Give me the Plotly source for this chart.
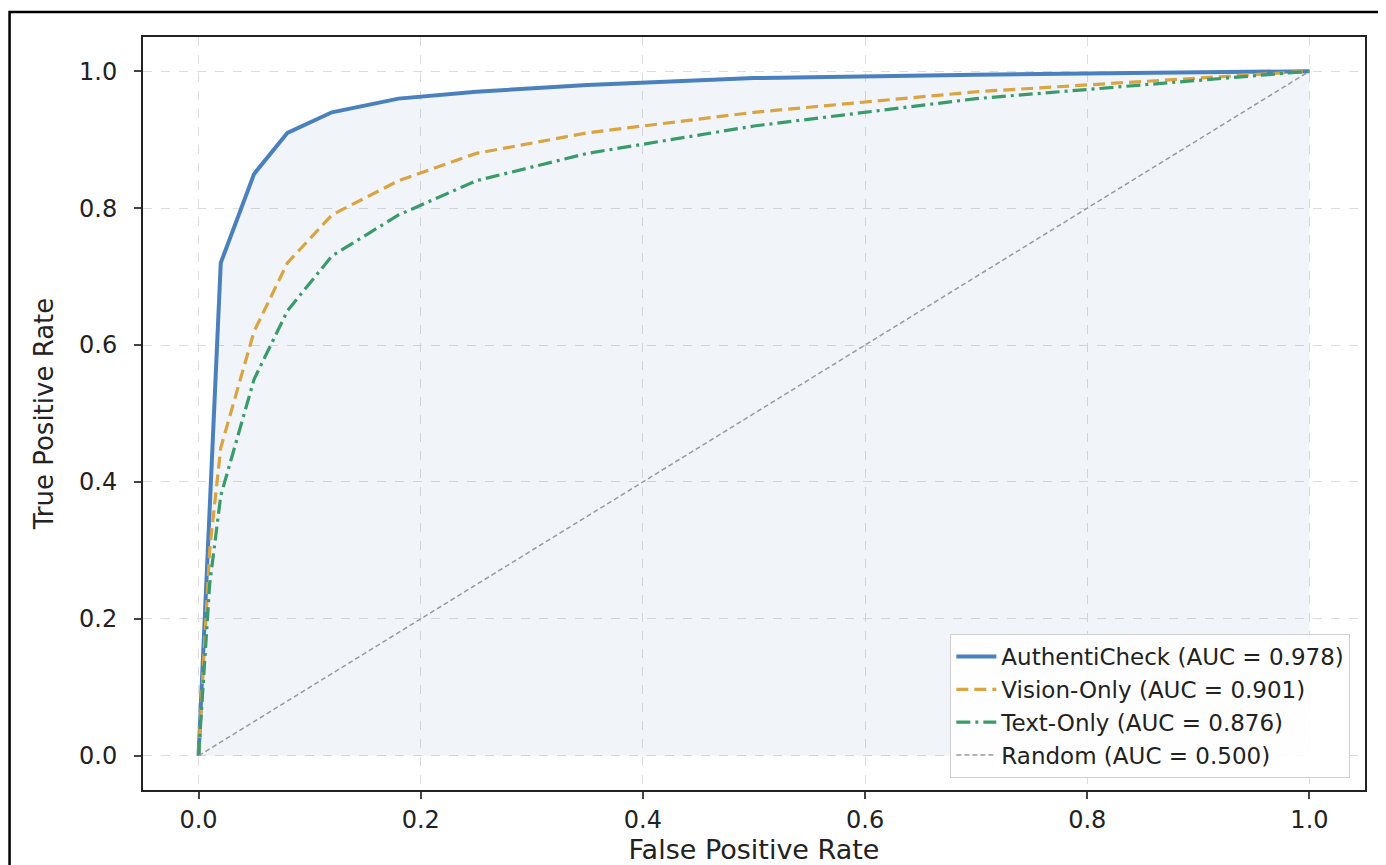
import plotly.graph_objects as go

fpr_main = [0.0, 0.02, 0.05, 0.08, 0.12, 0.18, 0.25, 0.35, 0.5, 0.7, 1.0]
tpr_main = [0.0, 0.72, 0.85, 0.91, 0.94, 0.96, 0.97, 0.98, 0.99, 0.995, 1.0]

fpr_vision = [0.0, 0.01, 0.02, 0.05, 0.08, 0.12, 0.18, 0.25, 0.35, 0.5, 0.7, 1.0]
tpr_vision = [0.0, 0.30, 0.45, 0.62, 0.72, 0.79, 0.84, 0.88, 0.91, 0.94, 0.97, 1.0]

fpr_text = [0.0, 0.01, 0.02, 0.05, 0.08, 0.12, 0.18, 0.25, 0.35, 0.5, 0.7, 1.0]
tpr_text = [0.0, 0.25, 0.38, 0.55, 0.65, 0.73, 0.79, 0.84, 0.88, 0.92, 0.96, 1.0]

fpr_random = [0.0, 1.0]
tpr_random = [0.0, 1.0]

names = ["AuthentiCheck (AUC = 0.978)", "Vision-Only (AUC = 0.901)",
         "Text-Only (AUC = 0.876)", "Random (AUC = 0.500)"]
ticks = [0.0, 0.2, 0.4, 0.6, 0.8, 1.0]
tick_text = ["0.0", "0.2", "0.4", "0.6", "0.8", "1.0"]

fig = go.Figure()
fig.add_trace(go.Scatter(x=fpr_main, y=tpr_main, mode="lines", fill="tozeroy",
                         fillcolor="rgba(74,128,189,0.08)", line=dict(width=0),
                         showlegend=False, hoverinfo="skip"))
fig.add_trace(go.Scatter(x=fpr_main, y=tpr_main, mode="lines", name=names[0],
                         line=dict(color="#4a80bd", width=4)))
fig.add_trace(go.Scatter(x=fpr_vision, y=tpr_vision, mode="lines", name=names[1],
                         line=dict(color="#d9a441", width=3.2, dash="12px,6px")))
fig.add_trace(go.Scatter(x=fpr_text, y=tpr_text, mode="lines", name=names[2],
                         line=dict(color="#3a9a6a", width=3.2, dash="14px,5px,3px,5px")))
fig.add_trace(go.Scatter(x=fpr_random, y=tpr_random, mode="lines", name=names[3],
                         line=dict(color="#9a9a9a", width=1.5, dash="5px,3px")))

axis_common = dict(
    tickvals=ticks, ticktext=tick_text, showline=True, linecolor="#222", linewidth=2,
    mirror=True, ticks="outside", ticklen=7, tickwidth=2, tickcolor="#444",
    showgrid=True, gridcolor="#dcdcdc", griddash="dash", gridwidth=1, zeroline=False,
    tickfont=dict(family="DejaVu Sans", size=24, color="#222"), automargin=False,
)
fig.update_xaxes(range=[-0.05, 1.05], ticklabelstandoff=0,
                 title=dict(text="False Positive Rate",
                            font=dict(family="DejaVu Sans", size=27, color="#222"), standoff=12),
                 **axis_common)
fig.update_yaxes(range=[-0.05, 1.05], ticklabelstandoff=12,
                 title=dict(text="True Positive Rate",
                            font=dict(family="DejaVu Sans", size=26, color="#222"), standoff=18),
                 **axis_common)

fig.update_layout(
    width=1370, height=857,
    margin=dict(l=135, r=13, t=29, b=75),
    paper_bgcolor="white", plot_bgcolor="white",
    legend=dict(x=0.988, y=0.016, xanchor="right", yanchor="bottom",
                bgcolor="rgba(255,255,255,0.9)", bordercolor="#d0d0d0", borderwidth=1,
                font=dict(family="DejaVu Sans", size=23, color="#222"),
                tracegroupgap=0, itemwidth=40),
    shapes=[dict(type="rect", xref="paper", yref="paper",
                 x0=-0.1092, x1=1.03, y0=-0.12, y1=1.0332,
                 line=dict(color="black", width=2.5), layer="above")],
)

fig.write_html("out.html")
